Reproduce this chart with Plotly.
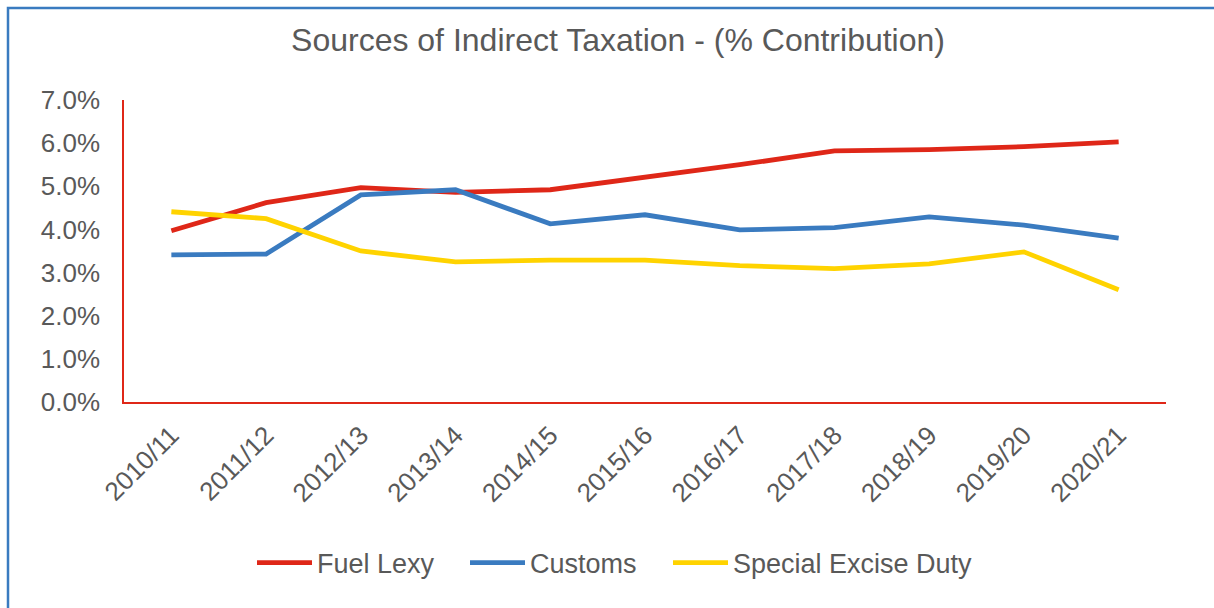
import plotly.graph_objects as go

years = ["2010/11", "2011/12", "2012/13", "2013/14", "2014/15", "2015/16",
         "2016/17", "2017/18", "2018/19", "2019/20", "2020/21"]
fuel_lexy = [3.97, 4.62, 4.97, 4.86, 4.92, 5.20, 5.50, 5.82, 5.85, 5.92, 6.03]
customs = [3.41, 3.43, 4.80, 4.92, 4.13, 4.34, 3.99, 4.04, 4.29, 4.10, 3.80]
excise = [4.41, 4.25, 3.50, 3.25, 3.29, 3.29, 3.16, 3.09, 3.20, 3.48, 2.60]
y_ticks = [0, 1, 2, 3, 4, 5, 6, 7]
y_tick_labels = ["0.0%", "1.0%", "2.0%", "3.0%", "4.0%", "5.0%", "6.0%", "7.0%"]
series_names = ["Fuel Lexy", "Customs", "Special Excise Duty"]

RED = "#DF2718"
BLUE = "#3A7BC0"
YELLOW = "#FFD300"
GREY = "#595959"
NARROW = "Liberation Sans Narrow, Arial Narrow, Liberation Sans, Arial, sans-serif"

L, R, T, B = 124, 48, 100, 206
W, H = 1214, 608
pw, ph = W - L - R, H - T - B

def px(x):
    return (x - L) / pw

def py(y):
    return (H - B - y) / ph

legend_ids = ["legend", "legend2", "legend3"]
legend_x = [252, 465, 668]

fig = go.Figure()
for name, vals, col, lid in zip(series_names, [fuel_lexy, customs, excise],
                                [RED, BLUE, YELLOW], legend_ids):
    fig.add_trace(go.Scatter(x=years, y=vals, name=name, mode="lines",
                             line=dict(color=col, width=4.8), legend=lid))

legend_common = dict(orientation="h", yanchor="middle", y=py(563), xanchor="left",
                     itemwidth=55, bgcolor="rgba(0,0,0,0)",
                     font=dict(family=NARROW, size=27, color=GREY))

fig.update_layout(
    width=W, height=H,
    margin=dict(l=L, r=R, t=T, b=B),
    paper_bgcolor="white", plot_bgcolor="white",
    title=dict(text="Sources of Indirect Taxation - (% Contribution)",
               x=618 / W, xref="container", xanchor="center",
               y=1 - 40 / H, yref="container", yanchor="middle",
               font=dict(family="Liberation Sans, Arial, sans-serif", size=32, color=GREY)),
    xaxis=dict(range=[-0.5, len(years) - 0.5], showgrid=False, showline=True,
               linecolor=RED, linewidth=1.5,
               tickangle=-45, ticks="", ticklabelstandoff=6,
               tickfont=dict(family=NARROW, size=26, color=GREY)),
    yaxis=dict(range=[0, 7], showgrid=False, showline=True, linecolor=RED, linewidth=1.5,
               tickvals=y_ticks, ticktext=y_tick_labels, ticks="",
               ticklabelstandoff=17, zeroline=False,
               tickfont=dict(family=NARROW, size=26, color=GREY)),
    legend=dict(legend_common, x=px(legend_x[0])),
    legend2=dict(legend_common, x=px(legend_x[1])),
    legend3=dict(legend_common, x=px(legend_x[2])),
    showlegend=True,
)

# outer chart border (blue), extends beyond the right and bottom edges
fig.add_shape(type="rect", xref="paper", yref="paper",
              x0=px(8), x1=px(1230), y0=py(630), y1=py(8),
              line=dict(color=BLUE, width=2.5), fillcolor="rgba(0,0,0,0)", layer="below")

fig.write_html("out.html", config={"displayModeBar": False},
               post_script="document.body.style.margin='0';document.body.style.overflow='hidden';")
